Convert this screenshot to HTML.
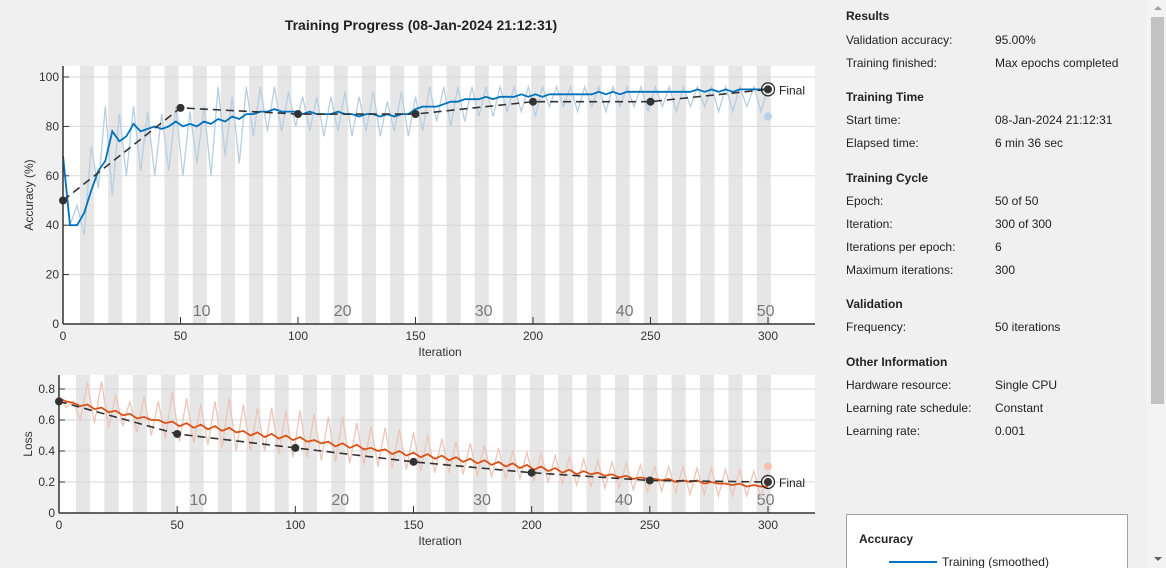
<!DOCTYPE html>
<html style="overflow:hidden;height:568px"><head><meta charset="utf-8"><style>
body{margin:0;width:1166px;height:568px;background:#f0f0f0;overflow:hidden;font-family:"Liberation Sans",Arial,sans-serif;position:relative}
.t{position:absolute;font-size:12px;color:#222;white-space:nowrap}
.h{font-weight:bold}
</style></head><body>
<svg id="chart" width="830" height="568" style="position:absolute;left:0;top:0" xmlns="http://www.w3.org/2000/svg" font-family="Liberation Sans, Arial, sans-serif"></svg>

<div class="t h" style="left:846px;top:9px">Results</div>
<div class="t" style="left:846px;top:33px">Validation accuracy:</div>
<div class="t" style="left:995px;top:33px">95.00%</div>
<div class="t" style="left:846px;top:56px">Training finished:</div>
<div class="t" style="left:995px;top:56px">Max epochs completed</div>
<div class="t h" style="left:846px;top:90px">Training Time</div>
<div class="t" style="left:846px;top:113px">Start time:</div>
<div class="t" style="left:995px;top:113px">08-Jan-2024 21:12:31</div>
<div class="t" style="left:846px;top:136px">Elapsed time:</div>
<div class="t" style="left:995px;top:136px">6 min 36 sec</div>
<div class="t h" style="left:846px;top:171px">Training Cycle</div>
<div class="t" style="left:846px;top:194px">Epoch:</div>
<div class="t" style="left:995px;top:194px">50 of 50</div>
<div class="t" style="left:846px;top:217px">Iteration:</div>
<div class="t" style="left:995px;top:217px">300 of 300</div>
<div class="t" style="left:846px;top:240px">Iterations per epoch:</div>
<div class="t" style="left:995px;top:240px">6</div>
<div class="t" style="left:846px;top:263px">Maximum iterations:</div>
<div class="t" style="left:995px;top:263px">300</div>
<div class="t h" style="left:846px;top:297px">Validation</div>
<div class="t" style="left:846px;top:320px">Frequency:</div>
<div class="t" style="left:995px;top:320px">50 iterations</div>
<div class="t h" style="left:846px;top:355px">Other Information</div>
<div class="t" style="left:846px;top:378px">Hardware resource:</div>
<div class="t" style="left:995px;top:378px">Single CPU</div>
<div class="t" style="left:846px;top:401px">Learning rate schedule:</div>
<div class="t" style="left:995px;top:401px">Constant</div>
<div class="t" style="left:846px;top:424px">Learning rate:</div>
<div class="t" style="left:995px;top:424px">0.001</div>

<div style="position:absolute;left:846px;top:514px;width:280px;height:54px;background:#fff;border:1px solid #a0a0a0;border-bottom:none">
  <div class="t h" style="left:12px;top:17px">Accuracy</div>
  <div style="position:absolute;left:42px;top:46px;width:48px;height:2px;background:#0072bd"></div>
  <div class="t" style="left:95px;top:40px">Training (smoothed)</div>
</div>

<div style="position:absolute;left:1146px;top:0;width:20px;height:568px;background:#f3f3f3"></div>
<div style="position:absolute;left:1151px;top:17px;width:13px;height:387px;background:#c2c2c2"></div>
<div style="position:absolute;left:1154px;top:6px;width:0;height:0;border-left:4px solid transparent;border-right:4px solid transparent;border-bottom:4px solid #a0a0a0"></div>
<div style="position:absolute;left:1154px;top:557px;width:0;height:0;border-left:4px solid transparent;border-right:4px solid transparent;border-top:4px solid #606060"></div>

<script>
const accRaw=[68,40,48,36,72,55,88,52,85,60,88,62,86,60,85,62,88,60,86,65,88,60,96,68,92,65,96,76,96,78,96,78,94,80,92,78,92,76,92,78,94,76,92,78,94,76,90,78,94,76,92,78,96,82,96,80,96,82,96,84,96,84,96,86,96,86,96,84,96,88,96,88,96,86,96,88,96,86,96,88,96,88,96,86,96,88,96,86,96,88,96,88,96,86,96,86,96,88,96,86,96];
const accSmooth=[68,40,40,45,54,62,66,78,74,76,81,78,79,80,79,80,82,80,81,80,82,81,83,82,84,83,85,85,86,86,87,86,86,86,85,86,85,85,85,86,85,85,84,85,85,84,85,84,85,85,87,88,88,88,89,90,90,91,91,91,92,91,92,92,92,93,92,93,92,93,93,93,93,93,93,93,94,93,94,93,94,94,94,94,94,94,94,94,94,94,95,94,95,94,95,94,95,95,95,95,95];
const valIters=[0,50,100,150,200,250,300];
const accVal=[50,87.5,85,85,90,90,95];
const accFinalTrain=84;
const lossRaw=[0.75,0.68,0.72,0.60,0.84,0.58,0.85,0.55,0.76,0.56,0.72,0.52,0.75,0.50,0.72,0.48,0.78,0.46,0.74,0.45,0.70,0.44,0.72,0.42,0.74,0.40,0.70,0.40,0.68,0.40,0.68,0.38,0.66,0.36,0.66,0.36,0.64,0.34,0.62,0.33,0.62,0.32,0.58,0.31,0.56,0.30,0.55,0.29,0.54,0.28,0.52,0.27,0.50,0.26,0.48,0.26,0.46,0.25,0.45,0.24,0.44,0.23,0.42,0.22,0.40,0.22,0.39,0.21,0.38,0.20,0.37,0.19,0.36,0.18,0.35,0.17,0.34,0.16,0.33,0.16,0.32,0.15,0.31,0.14,0.30,0.14,0.30,0.13,0.30,0.12,0.29,0.12,0.29,0.11,0.28,0.11,0.28,0.11,0.27,0.10,0.26];
const lossSmooth=[0.74,0.72,0.71,0.69,0.70,0.67,0.68,0.65,0.66,0.63,0.64,0.61,0.62,0.60,0.60,0.58,0.59,0.56,0.58,0.55,0.57,0.54,0.56,0.53,0.55,0.52,0.53,0.50,0.52,0.49,0.51,0.48,0.50,0.47,0.49,0.46,0.47,0.45,0.46,0.43,0.45,0.42,0.44,0.41,0.42,0.40,0.41,0.38,0.40,0.37,0.39,0.36,0.38,0.35,0.37,0.34,0.36,0.33,0.35,0.32,0.34,0.31,0.33,0.30,0.32,0.29,0.31,0.28,0.30,0.27,0.29,0.26,0.28,0.25,0.27,0.25,0.26,0.24,0.25,0.23,0.24,0.22,0.23,0.22,0.22,0.21,0.22,0.20,0.21,0.20,0.21,0.19,0.20,0.19,0.19,0.18,0.19,0.17,0.18,0.17,0.17];
const lossVal=[0.72,0.51,0.42,0.33,0.26,0.21,0.20];
const lossFinalTrain=0.30;
const xTicks=[0,50,100,150,200,250,300];
const accTicks=[0,20,40,60,80,100];
const lossTicks=[0,0.2,0.4,0.6,0.8];
const epochLabels=[10,20,30,40,50];

const svg=document.getElementById('chart');
const NS='http://www.w3.org/2000/svg';
function mk(tag,attrs,parent){const e=document.createElementNS(NS,tag);for(const k in attrs)e.setAttribute(k,attrs[k]);(parent||svg).appendChild(e);return e;}

const T=mk('text',{x:421,y:30,'text-anchor':'middle','font-size':14,'font-weight':'bold',fill:'#222'});
T.textContent='Training Progress (08-Jan-2024 21:12:31)';



function panel(cfg){
  const g=mk('g',{});
  
  
  const X=i=>cfg.x0+(i/300)*(cfg.x300-cfg.x0);
  const Y=v=>cfg.yb+(v-0)/(cfg.ymaxv)*(cfg.ytop-cfg.yb);
  mk('rect',{x:cfg.x0,y:cfg.top,width:815-cfg.x0,height:cfg.yb-cfg.top,fill:'#fff'},g);
  for(let e=2;e<=50;e+=2){
    const b=mk('rect',{x:X((e-1)*6+1.2),y:cfg.top,width:X(e*6)-X((e-1)*6),height:cfg.yb-cfg.top,fill:'#e6e6e6'},g);
    
    
  }
  cfg.yTicks.forEach(v=>{
    if(v>0)mk('line',{x1:cfg.x0,x2:815,y1:Y(v),y2:Y(v),stroke:'#d8d8d8','stroke-width':1},g);
    mk('line',{x1:cfg.x0,x2:cfg.x0+6,y1:Y(v),y2:Y(v),stroke:'#333'},g);
    const t=mk('text',{x:cfg.x0-4,y:Y(v)+4,'text-anchor':'end','font-size':12,fill:'#333'},g);
    t.textContent=cfg.fmt(v);
    
    
  });
  epochLabels.forEach(e=>{
    const t=mk('text',{x:X(e*6-1),y:cfg.yb-8,'text-anchor':'middle','font-size':16,fill:'#777'},g);
    t.textContent=e;
    
    
  });
  xTicks.forEach(v=>{
    mk('line',{x1:X(v),x2:X(v),y1:cfg.yb,y2:cfg.yb-7,stroke:'#333'},g);
    const t=mk('text',{x:X(v),y:cfg.yb+16,'text-anchor':'middle','font-size':12,fill:'#333'},g);
    t.textContent=v;
    
    
  });
  const pts=a=>a.map((v,i)=>X(i*300/(a.length-1)).toFixed(1)+','+Y(v).toFixed(1)).join(' ');
  const r=mk('polyline',{points:pts(cfg.raw),fill:'none',stroke:cfg.light,'stroke-width':1.3},g);
  
  
  const s=mk('polyline',{points:pts(cfg.smooth),fill:'none',stroke:cfg.dark,'stroke-width':1.8},g);
  
  
  const vl=mk('polyline',{points:valIters.map((it,i)=>X(it)+','+Y(cfg.val[i])).join(' '),fill:'none',stroke:'#333','stroke-width':1.6,'stroke-dasharray':'8,5'},g);
  
  
  valIters.forEach((it,i)=>{
    const c=mk('circle',{cx:X(it),cy:Y(cfg.val[i]),r:4,fill:'#333'},g);
    
    
  });
  const fd=mk('circle',{cx:X(300),cy:Y(cfg.finalTrain),r:4,fill:cfg.dot},g);
  
  
  const fr=mk('circle',{cx:X(300),cy:Y(cfg.val[6]),r:6.5,fill:'none',stroke:'#222','stroke-width':1.2},g);
  
  
  const ft=mk('text',{x:X(300)+11,y:Y(cfg.val[6])+5,'font-size':12,fill:'#222'},g);
  ft.textContent='Final';
  
  
  mk('line',{x1:cfg.x0,x2:cfg.x0,y1:cfg.top,y2:cfg.yb,stroke:'#333','stroke-width':1.5},g);
  mk('line',{x1:cfg.x0,x2:815,y1:cfg.yb,y2:cfg.yb,stroke:'#333','stroke-width':1.5},g);
  const xl=mk('text',{x:440,y:cfg.yb+32,'text-anchor':'middle','font-size':12,fill:'#333'},g);
  xl.textContent='Iteration';
  
  
  const cy=(cfg.top+cfg.yb)/2;
  const yl=mk('text',{x:cfg.ylx,y:cy,'text-anchor':'middle','font-size':12,fill:'#333',transform:`rotate(-90 ${cfg.ylx} ${cy})`},g);
  yl.textContent=cfg.ylabel;
  
  
}

panel({name:'accuracy-plot',x0:63,x300:768,top:66,yb:324,ytop:77,ymaxv:100,yTicks:accTicks,fmt:v=>v,
  raw:accRaw,smooth:accSmooth,val:accVal,finalTrain:accFinalTrain,light:'#b5cfe3',dark:'#0072bd',dot:'#b5d3ee',ylabel:'Accuracy (%)',ylx:33});
panel({name:'loss-plot',x0:59,x300:768,top:375,yb:513,ytop:389,ymaxv:0.8,yTicks:lossTicks,fmt:v=>v===0?'0':v.toFixed(1),
  raw:lossRaw,smooth:lossSmooth,val:lossVal,finalTrain:lossFinalTrain,light:'#ecc6b6',dark:'#d95319',dot:'#f5c3b0',ylabel:'Loss',ylx:32});
</script>
</body></html>
